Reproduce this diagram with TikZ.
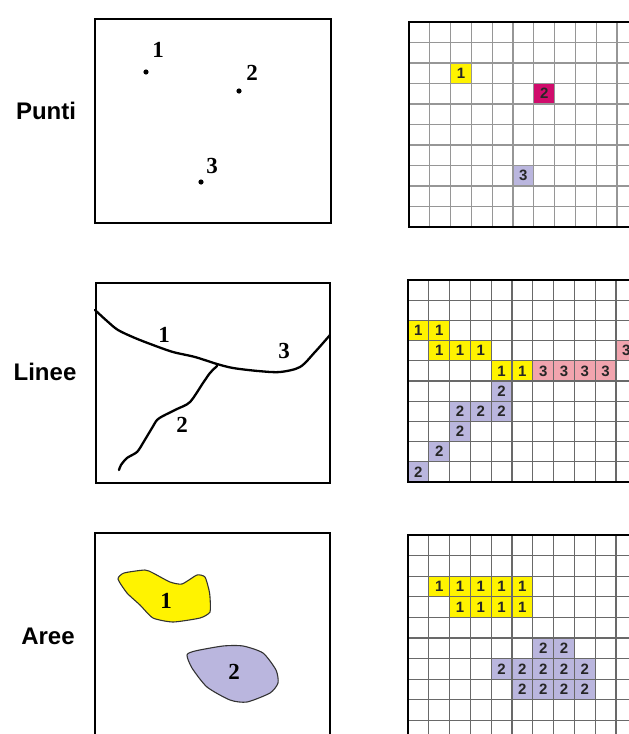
\documentclass[tikz,border=0pt]{standalone}
\usepackage{fontspec}
\setmainfont{Liberation Serif}
\setsansfont{Liberation Sans}
\definecolor{ylw}{RGB}{255,243,0}
\definecolor{mag}{RGB}{208,12,108}
\definecolor{lav}{RGB}{186,182,222}
\definecolor{pnk}{RGB}{241,164,174}
\definecolor{glinea}{RGB}{150,150,150}
\definecolor{glineb}{RGB}{105,105,105}
\begin{document}
\begin{tikzpicture}[x=1pt,y=-1pt,
  frame/.style={draw=black,line width=2.7pt},
  feature/.style={draw=black,line width=2.3pt,line cap=round,line join=round},
  rowlabel/.style={font=\fontsize{24}{24}\selectfont\sffamily\bfseries,inner sep=0},
  fnum/.style={font=\fontsize{23}{23}\selectfont\bfseries,inner sep=0},
  gnum/.style={font=\fontsize{15}{15}\selectfont\sffamily\bfseries,text=black!85,inner sep=0},
  gridline/.style={line width=1.1pt}]
\useasboundingbox (0,0) rectangle (629,734);
\begin{scope}
\clip (0,0) rectangle (629,734);

% ---------- row labels ----------
\node[rowlabel] (lp) at (46,111) {Punti};
\node[rowlabel] (ll) at (45,372) {Linee};
\node[rowlabel] (la) at (48,636) {Aree};

% ---------- vector: points ----------
\draw[frame] (95,19) rectangle (331,223);
\fill (146,72) circle (2.6);
\fill (239,91) circle (2.6);
\fill (201,182) circle (2.6);
\node[fnum] (p1) at (158,50) {1};
\node[fnum] (p2) at (252,73) {2};
\node[fnum] (p3) at (212,166) {3};

% ---------- vector: lines ----------
\draw[frame] (96,283) rectangle (330,483);
\draw[feature] plot[smooth,tension=0.5] coordinates {(95,310) (107,321) (118,330) (135,338) (153,345) (173,352) (195,357) (217,364) (233,368) (258,371) (280,372) (300,367) (315,352) (330,335)};
\draw[feature] plot[smooth,tension=0.5] coordinates {(217,366) (210,373) (203,383) (190,402) (177,409) (163,416) (157,420) (152,428) (146,438) (143,443) (137,452) (127,458) (121,465) (119,470)};
\node[fnum] (l1) at (164,335) {1};
\node[fnum] (l3) at (284,351) {3};
\node[fnum] (l2) at (182,425) {2};

% ---------- vector: areas ----------
\draw[frame] (95,760) -- (95,533) -- (330,533) -- (330,760);
\filldraw[fill=ylw,draw=black!80,line width=1.1pt] plot[smooth cycle,tension=0.35] coordinates {(118,579) (124,573) (145,570) (153,573) (170,582) (182,584) (197,575) (205,577) (209,590) (210,597) (210,612) (200,618) (173,622) (153,618) (140,605) (127,593)};
\filldraw[fill=lav,draw=black!80,line width=1.1pt] plot[smooth cycle,tension=0.4] coordinates {(187,655) (195,651) (223,646) (243,646) (263,653) (276,670) (278,683) (270,693) (247,702) (230,700) (207,687) (192,668)};
\node[fnum] (a1) at (166,601) {1};
\node[fnum] (a2) at (234,672) {2};

% ---------- raster: points ----------
\begin{scope}[shift={(409,22)},x=20.8pt,y=-20.5pt]
  \foreach \c/\r/\col/\n [count=\i] in {2/2/ylw/1,6/3/mag/2,5/7/lav/3}
    \fill[\col] (\c,\r) rectangle ++(1,1);
  \foreach \k in {1,...,11} \draw[gridline,glinea] (\k,0) -- (\k,10);
  \foreach \k in {1,...,9} \draw[gridline,glinea] (0,\k) -- (12,\k);
  \foreach \c/\r/\col/\n [count=\i] in {2/2/ylw/1,6/3/mag/2,5/7/lav/3}
    \node[gnum] (rp\i) at (\c+0.5,\r+0.5) {\n};
  \draw[frame] (12,0) -- (0,0) -- (0,10) -- (12,10);
\end{scope}

% ---------- raster: lines ----------
\begin{scope}[shift={(408,280)},x=20.8pt,y=-20.2pt]
  \def\cellsL{0/2/ylw/1,1/2/ylw/1,1/3/ylw/1,2/3/ylw/1,3/3/ylw/1,10/3/pnk/3,4/4/ylw/1,5/4/ylw/1,6/4/pnk/3,7/4/pnk/3,8/4/pnk/3,9/4/pnk/3,4/5/lav/2,2/6/lav/2,3/6/lav/2,4/6/lav/2,2/7/lav/2,1/8/lav/2,0/9/lav/2}
  \foreach \c/\r/\col/\n in \cellsL
    \fill[\col] (\c,\r) rectangle ++(1,1);
  \foreach \k in {1,...,11} \draw[gridline,glineb] (\k,0) -- (\k,10);
  \foreach \k in {1,...,9} \draw[gridline,glineb] (0,\k) -- (12,\k);
  \foreach \c/\r/\col/\n [count=\i] in \cellsL
    \node[gnum] (rl\i) at (\c+0.5,\r+0.5) {\n};
  \draw[frame] (12,0) -- (0,0) -- (0,10) -- (12,10);
\end{scope}

% ---------- raster: areas ----------
\begin{scope}[shift={(408,535)},x=20.8pt,y=-20.6pt]
  \def\cellsA{1/2/ylw/1,2/2/ylw/1,3/2/ylw/1,4/2/ylw/1,5/2/ylw/1,2/3/ylw/1,3/3/ylw/1,4/3/ylw/1,5/3/ylw/1,6/5/lav/2,7/5/lav/2,4/6/lav/2,5/6/lav/2,6/6/lav/2,7/6/lav/2,8/6/lav/2,5/7/lav/2,6/7/lav/2,7/7/lav/2,8/7/lav/2}
  \foreach \c/\r/\col/\n in \cellsA
    \fill[\col] (\c,\r) rectangle ++(1,1);
  \foreach \k in {1,...,11} \draw[gridline,glineb] (\k,0) -- (\k,11);
  \foreach \k in {1,...,10} \draw[gridline,glineb] (0,\k) -- (12,\k);
  \foreach \c/\r/\col/\n [count=\i] in \cellsA
    \node[gnum] (ra\i) at (\c+0.5,\r+0.5) {\n};
  \draw[frame] (12,0) -- (0,0) -- (0,11);
\end{scope}

\end{scope}
\end{tikzpicture}
\end{document}
